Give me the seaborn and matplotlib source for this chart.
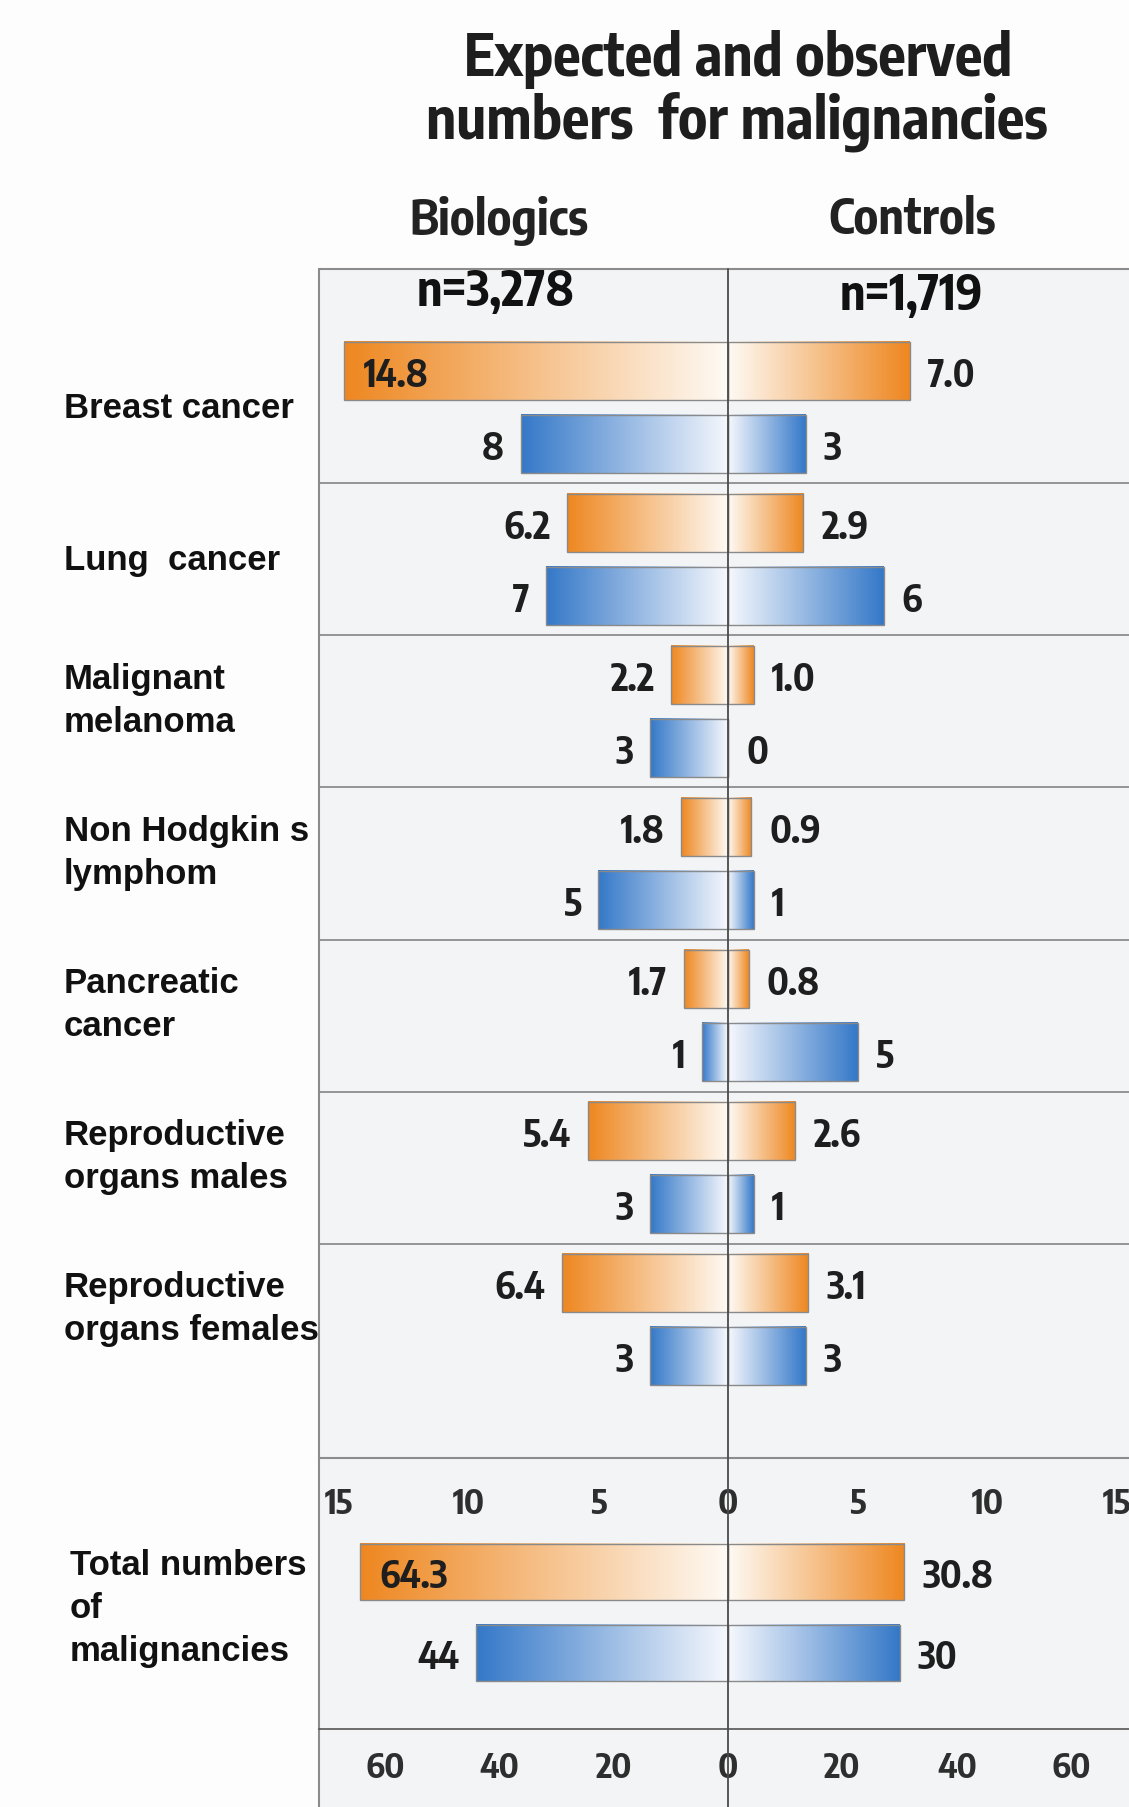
import numpy as np
import pandas as pd
import matplotlib.pyplot as plt
import seaborn as sns
from matplotlib.patches import Rectangle
from matplotlib.lines import Line2D
from matplotlib.colors import to_rgb
import matplotlib.transforms as mtransforms

# --- data ---
categories = ['Breast cancer', 'Lung  cancer', 'Malignant\nmelanoma', 'Non Hodgkin s\nlymphom',
              'Pancreatic\ncancer', 'Reproductive\norgans males', 'Reproductive\norgans females']
bio_expected = [14.8, 6.2, 2.2, 1.8, 1.7, 5.4, 6.4]
bio_observed = [8, 7, 3, 5, 1, 3, 3]
ctrl_expected = [7.0, 2.9, 1.0, 0.9, 0.8, 2.6, 3.1]
ctrl_observed = [3, 6, 0, 1, 5, 1, 3]

total_category = 'Total numbers\nof\nmalignancies'
total_bio = [64.3, 44]      # expected, observed
total_ctrl = [30.8, 30]

upper_ticks = [-15, -10, -5, 0, 5, 10, 15]
lower_ticks = [-60, -40, -20, 0, 20, 40, 60]

types = ['Expected', 'Observed']
dark = {'Expected': '#EE8720', 'Observed': '#3478C8'}
light = {'Expected': '#FEFAF4', 'Observed': '#F6F8FD'}

# --- style ---
sns.set_theme(style="white")
narrow = ['Encode Sans Condensed', 'DejaVu Sans']
regular = ['Liberation Sans', 'DejaVu Sans']
plt.rcParams['font.family'] = regular

W, H = 1129, 1808
fx = lambda px: px / W
fy = lambda py: 1 - py / H

fig = plt.figure(figsize=(W / 100, H / 100), dpi=100)
fig.patch.set_facecolor('#FDFDFD')

# panel background + left/top border
fig.add_artist(Rectangle((fx(319), -0.01), 1.0, fy(270) + 0.01, transform=fig.transFigure,
                         facecolor='#F3F4F6', edgecolor='#8C8C8C', lw=1.5, zorder=-1))

ax1 = fig.add_axes([fx(319), fy(1459), fx(810), (1459 - 270) / H])
ax2 = fig.add_axes([fx(319), fy(1730), fx(810), (1730 - 1530) / H])


def long_table(cats, bio_exp, bio_obs, ctl_exp, ctl_obs):
    rows = []
    for i, c in enumerate(cats):
        rows.append((c, 'Expected', -bio_exp[i], 'bio'))
        rows.append((c, 'Observed', -bio_obs[i], 'bio'))
        rows.append((c, 'Expected', ctl_exp[i], 'ctrl'))
        rows.append((c, 'Observed', ctl_obs[i], 'ctrl'))
    return pd.DataFrame(rows, columns=['category', 'type', 'value', 'group'])


df_top = long_table(categories, bio_expected, bio_observed, ctrl_expected, ctrl_observed)
df_bot = long_table([total_category], [total_bio[0]], [total_bio[1]], [total_ctrl[0]], [total_ctrl[1]])


def draw_bars(ax, df, order, gap):
    for g in ['bio', 'ctrl']:
        sns.barplot(data=df[df.group == g], x='value', y='category', hue='type', hue_order=types,
                    order=order, palette=dark, orient='h', width=0.96, gap=gap, dodge=True,
                    errorbar=None, legend=False, edgecolor='#8A8A8A', linewidth=1, ax=ax)
    # gradient fill: light at zero, dark at the outer end
    for p in list(ax.patches):
        x, w = p.get_x(), p.get_width()
        if abs(w) < 1e-9:
            continue
        y0, h = p.get_y(), p.get_height()
        fc = p.get_facecolor()[:3]
        key = min(dark, key=lambda k: np.sum((np.array(to_rgb(dark[k])) - np.array(fc)) ** 2))
        c1, c0 = np.array(to_rgb(dark[key])), np.array(to_rgb(light[key]))
        t = np.linspace(0, 1, 256)
        if x + w < x:
            t = t[::-1]
        img = (c0 + (c1 - c0) * t[:, None])[None, :, :]
        left, right = min(x, x + w), max(x, x + w)
        ax.imshow(img, extent=[left, right, y0 + h, y0], aspect='auto', zorder=0.5,
                  interpolation='bilinear')
        p.set_facecolor('none')
        p.set_zorder(1)


draw_bars(ax1, df_top, categories, 0.2)
draw_bars(ax2, df_bot, [total_category], 0.3)

ax1.set_xlim(-15.77, 15.46)
ax1.set_ylim(6.91, -0.91)
ax2.set_xlim(-71.5, 70.1)
ax2.set_ylim(0.689, -0.494)

label_kw = dict(va='center', fontsize=27, fontweight='bold', family=narrow, color='#1E1E1E')


# value labels
def value_labels(ax, bio_e, bio_o, ctl_e, ctl_o, xmin):
    for i in range(len(bio_e)):
        for k, (bv, cv) in enumerate([(bio_e[i], ctl_e[i]), (bio_o[i], ctl_o[i])]):
            y = i + (-0.24 if k == 0 else 0.24)
            fmt = '{:.1f}' if k == 0 else '{:d}'
            if bv > 0.8 * xmin:
                ax.annotate(fmt.format(bv), (-bv, y), xytext=(14, -3), textcoords='offset points',
                            ha='left', **label_kw)
            else:
                ax.annotate(fmt.format(bv), (-bv, y), xytext=(-12, -3), textcoords='offset points',
                            ha='right', **label_kw)
            ax.annotate(fmt.format(cv), (cv, y), xytext=(13, -3), textcoords='offset points',
                        ha='left', **label_kw)


value_labels(ax1, bio_expected, bio_observed, ctrl_expected, ctrl_observed, 15.77)
value_labels(ax2, [total_bio[0]], [total_bio[1]], [total_ctrl[0]], [total_ctrl[1]], 71.5)

# separators between categories
for i in range(len(categories) - 1):
    ax1.axhline(i + 0.5, color='#8C8C8C', lw=1.3, zorder=0.2)

# axes styling
for ax, ticks in [(ax1, upper_ticks), (ax2, lower_ticks)]:
    ax.set_facecolor('none')
    for s in ['top', 'left', 'right']:
        ax.spines[s].set_visible(False)
    ax.set_yticks([])
    ax.set_xlabel('')
    ax.set_ylabel('')
    ax.set_xticks(ticks)
    ax.set_xticklabels([str(abs(t)) for t in ticks], fontsize=25, fontweight='bold',
                       family=narrow, color='#2E2E2E')

ax1.spines['bottom'].set_color('#8C8C8C')
ax1.spines['bottom'].set_linewidth(1.5)
ax1.tick_params(axis='x', direction='out', length=14, width=1.2, color='#9A9A9A', pad=6)
ax2.spines['bottom'].set_color('#555555')
ax2.spines['bottom'].set_linewidth(1.2)
ax2.tick_params(axis='x', direction='inout', length=14, width=1.2, color='#8A8A8A', pad=8)

# category labels (left, outside the panel)
tr = mtransforms.blended_transform_factory(fig.transFigure, ax1.transData)
for i, c in enumerate(categories):
    off = -0.075 if '\n' in c else 0.0
    ax1.text(fx(64), i + off, c, transform=tr, ha='left', va='center', fontsize=25,
             fontweight='bold', family=regular, color='#111111', linespacing=1.4)
tr2 = mtransforms.blended_transform_factory(fig.transFigure, ax2.transData)
ax2.text(fx(70), -0.03, total_category, transform=tr2, ha='left', va='center', fontsize=25,
         fontweight='bold', family=regular, color='#111111', linespacing=1.4)

# center line through both panels
fig.add_artist(Line2D([fx(728), fx(728)], [0, fy(270)], transform=fig.transFigure,
                      color='#4A4A4A', lw=1.3, zorder=3))

# titles and headers
fig.text(fx(738), fy(76), 'Expected and observed', ha='center', va='baseline', fontsize=41.5,
         fontweight='bold', family=narrow, color='#1E1E1E')
fig.text(fx(737), fy(139), 'numbers  for malignancies', ha='center', va='baseline', fontsize=41.5,
         fontweight='bold', family=narrow, color='#1E1E1E')
fig.text(fx(499), fy(221), 'Biologics', ha='center', va='center', fontsize=35,
         fontweight='bold', family=narrow, color='#222222')
fig.text(fx(912), fy(219), 'Controls', ha='center', va='center', fontsize=35,
         fontweight='bold', family=narrow, color='#222222')
fig.text(fx(496), fy(292), 'n=3,278', ha='center', va='center', fontsize=35,
         fontweight='bold', family=narrow, color='#111111')
fig.text(fx(911), fy(296), 'n=1,719', ha='center', va='center', fontsize=35,
         fontweight='bold', family=narrow, color='#111111')

fig.savefig('out.png', dpi=100, facecolor=fig.get_facecolor())
